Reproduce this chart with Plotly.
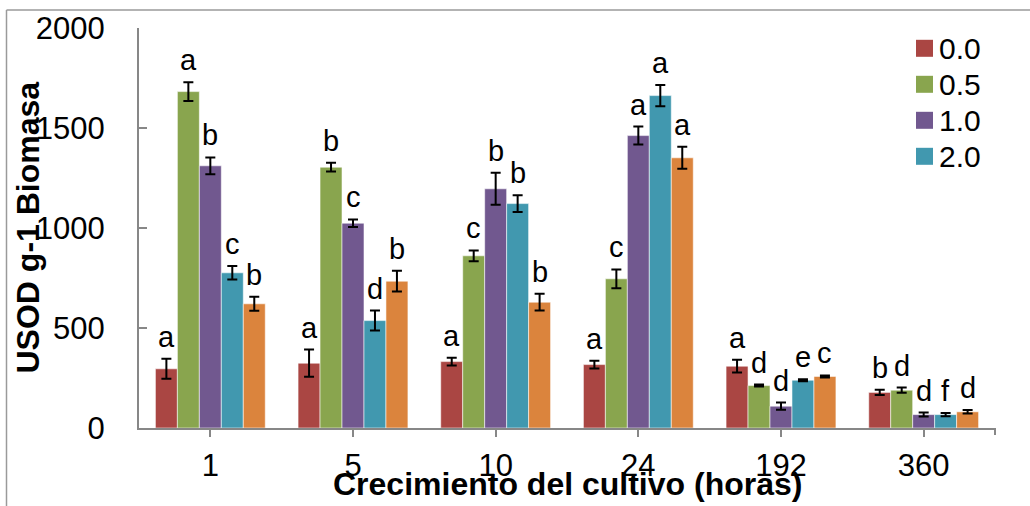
import plotly.graph_objects as go

# Cultivation time (hours)
categories = ["1", "5", "10", "24", "192", "360"]

# USOD per g biomass, mean and error for each concentration
usod_00 = [296, 324, 332, 317, 309, 178]
err_00 = [50, 68, 19, 19, 32, 13]
usod_05 = [1682, 1304, 861, 746, 212, 189]
err_05 = [47, 22, 27, 47, 5, 13]
usod_10 = [1311, 1024, 1196, 1462, 109, 67]
err_10 = [42, 19, 80, 45, 18, 10]
usod_20 = [776, 537, 1122, 1662, 239, 67]
err_20 = [34, 50, 42, 53, 5, 8]
usod_40 = [621, 734, 629, 1351, 258, 81]
err_40 = [35, 52, 42, 55, 5, 9]

# Significance letters
let_00 = ["a", "a", "a", "a", "a", "b"]
let_05 = ["a", "b", "c", "c", "d", "d"]
let_10 = ["b", "c", "b", "a", "d", "d"]
let_20 = ["c", "d", "b", "a", "e", "f"]
let_40 = ["b", "b", "b", "a", "c", "d"]

series_names = ["0.0", "0.5", "1.0", "2.0", "4.0"]
series_in_legend = [True, True, True, True, False]
colors = ["#AA4643", "#89A54E", "#71588F", "#4198AF", "#DB843D"]

values = [usod_00, usod_05, usod_10, usod_20, usod_40]
errors = [err_00, err_05, err_10, err_20, err_40]
letters = [let_00, let_05, let_10, let_20, let_40]

FONT = "Liberation Sans, Arial, sans-serif"
W, H = 1030, 506
M_L, M_R, M_T, M_B = 139, 35, 28, 78
BARGAP = 0.23
Y_MAX = 2000


def px_x(px):
    return (px - M_L) / (W - M_L - M_R)


def px_y(py):
    return (H - M_B - py) / (H - M_T - M_B)


fig = go.Figure()
for name, col, vals, errs in zip(series_names, colors, values, errors):
    fig.add_trace(go.Bar(
        x=categories, y=vals, name=name, showlegend=False,
        marker=dict(color=col, line=dict(color="rgba(255,255,255,0.55)", width=1)),
        error_y=dict(type="data", array=errs, visible=True,
                     color="black", thickness=2, width=5),
    ))

annotations = []
n_series = len(values)
bar_w = (1 - BARGAP) / n_series
for s, (vals, errs, labs) in enumerate(zip(values, errors, letters)):
    offset = (s - (n_series - 1) / 2) * bar_w
    for i, (v, e, t) in enumerate(zip(vals, errs, labs)):
        annotations.append(dict(
            x=i + offset, y=v + e, xref="x", yref="y", text=t,
            showarrow=False, xanchor="center", yanchor="bottom", yshift=4,
            font=dict(family=FONT, size=29, color="black"),
        ))

# Axis titles
annotations.append(dict(
    x=px_x(27.5), y=0.5, xref="paper", yref="paper",
    text="<b>USOD g-1 Biomasa</b>", textangle=-90, showarrow=False,
    xanchor="center", yanchor="middle",
    font=dict(family=FONT, size=32, color="black"),
))
annotations.append(dict(
    x=0.5, y=px_y(484), xref="paper", yref="paper",
    text="<b>Crecimiento del cultivo (horas)</b>", showarrow=False,
    xanchor="center", yanchor="middle",
    font=dict(family=FONT, size=32, color="black"),
))

# Legend (first four series)
shapes = []
row_y = 48.3
for name, col, show in zip(series_names, colors, series_in_legend):
    if not show:
        continue
    shapes.append(dict(
        type="rect", xref="paper", yref="paper",
        x0=px_x(916), x1=px_x(933), y0=px_y(row_y - 8.5), y1=px_y(row_y + 8.5),
        fillcolor=col, line=dict(width=0),
    ))
    annotations.append(dict(
        x=px_x(937), y=px_y(row_y), xref="paper", yref="paper", text=name,
        showarrow=False, xanchor="left", yanchor="middle",
        font=dict(family=FONT, size=30, color="black"),
    ))
    row_y += 36

# Outer frame and closing tick of the category axis
shapes.append(dict(type="line", xref="paper", yref="paper",
                   x0=px_x(6.5), x1=px_x(W + 5), y0=px_y(10), y1=px_y(10),
                   line=dict(color="#9a9a9a", width=1.5)))
shapes.append(dict(type="line", xref="paper", yref="paper",
                   x0=px_x(6.5), x1=px_x(6.5), y0=px_y(10), y1=px_y(H + 5),
                   line=dict(color="#9a9a9a", width=1.5)))
shapes.append(dict(type="line", xref="paper", yref="paper",
                   x0=1, x1=1, y0=0, y1=px_y(H - M_B + 7),
                   line=dict(color="#878787", width=2)))

fig.update_layout(
    width=W, height=H,
    margin=dict(l=M_L, r=M_R, t=M_T, b=M_B, autoexpand=False),
    paper_bgcolor="white", plot_bgcolor="white",
    barmode="group", bargap=BARGAP, bargroupgap=0,
    showlegend=False,
    font=dict(family=FONT, size=31, color="black"),
    annotations=annotations, shapes=shapes,
    xaxis=dict(
        type="category", range=[-0.5, 5.5],
        showline=True, linecolor="#878787", linewidth=2,
        ticks="outside", ticklen=7, tickcolor="#878787", tickwidth=2,
        tickfont=dict(family=FONT, size=31, color="black"),
        ticklabelstandoff=2, showgrid=False, zeroline=False,
    ),
    yaxis=dict(
        range=[0, Y_MAX], tickvals=[0, 500, 1000, 1500, 2000],
        showline=True, linecolor="#878787", linewidth=2,
        ticks="inside", ticklen=8, tickcolor="#878787", tickwidth=2,
        tickfont=dict(family=FONT, size=31, color="black"),
        ticklabelstandoff=26, showgrid=False, zeroline=False,
    ),
)

fig.write_html("out.html")
